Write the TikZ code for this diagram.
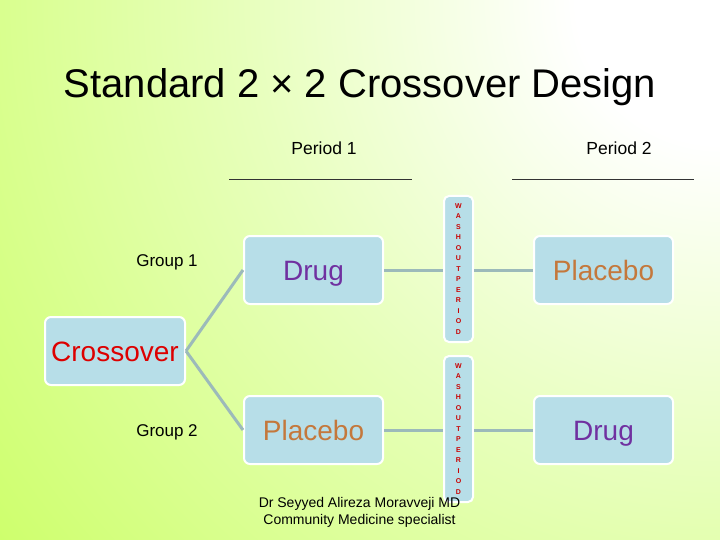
\documentclass[tikz,border=0pt]{standalone}
\usepackage{fontspec}
\setmainfont{Liberation Sans}
\definecolor{bggreen}{RGB}{204,255,102}
\definecolor{bglight}{RGB}{232,255,190}
\definecolor{boxfill}{RGB}{183,222,232}
\definecolor{conncol}{RGB}{156,186,186}
\definecolor{drugcol}{RGB}{112,48,160}
\definecolor{placol}{RGB}{196,120,60}
\definecolor{crosscol}{RGB}{221,0,0}
\definecolor{washcol}{RGB}{200,0,0}
\pgfdeclareradialshading{bgshade}{\pgfpoint{0bp}{0bp}}{%
  color(0bp)=(white); color(4bp)=(white); color(13bp)=(bglight);
  color(26bp)=(bggreen); color(50bp)=(bggreen)}
\tikzset{
  box/.style={draw=white, line width=2pt, rounded corners=6pt, fill=boxfill,
    minimum width=139pt, minimum height=68pt, inner sep=0pt,
    text height=20pt, text depth=0pt,
    font=\fontsize{28}{32}\selectfont},
  washbox/.style={draw=white, line width=2pt, rounded corners=5pt, fill=boxfill,
    minimum width=29pt, minimum height=146pt, inner sep=0pt, align=center,
    text=washcol, font=\fontsize{7}{10.5}\selectfont\bfseries},
  conn/.style={draw=conncol, line width=3pt},
  grouplbl/.style={font=\fontsize{17}{20}\selectfont, inner sep=0pt},
  periodlbl/.style={font=\fontsize{17.5}{20}\selectfont, inner sep=0pt},
  rule/.style={draw=black!80, line width=0.8pt}
}
\begin{document}
\begin{tikzpicture}[x=1pt,y=-1pt]
\useasboundingbox (0,0) rectangle (720,540);
\begin{scope}
  \clip (0,0) rectangle (720,540);
  \fill[bggreen] (0,0) rectangle (720,540);
  \shade[shading=bgshade] (720,0) circle[radius=900];
\end{scope}
\node[font=\fontsize{40}{46}\selectfont, inner sep=0pt] (title) at (360,87) {Standard 2 × 2 Crossover Design};
\node[periodlbl] (p1) at (324,148) {Period 1};
\node[periodlbl] (p2) at (619,148) {Period 2};
\coordinate (r1a) at (229,179);
\coordinate (r1b) at (412,179);
\coordinate (r2a) at (512,179);
\coordinate (r2b) at (694,179);
\draw[rule] (r1a) -- (r1b);
\draw[rule] (r2a) -- (r2b);
\node[box, text=crosscol, minimum width=140pt] (cross) at (115,351) {Crossover};
\node[box, text=drugcol] (drug1) at (313.5,270) {Drug};
\node[box, text=placol] (plac1) at (603.5,270) {Placebo};
\node[box, text=placol] (plac2) at (313.5,430) {Placebo};
\node[box, text=drugcol] (drug2) at (603.5,430) {Drug};
\node[washbox] (wash1) at (458.5,269) {W\\A\\S\\H\\O\\U\\T\\P\\E\\R\\I\\O\\D};
\node[washbox] (wash2) at (458.5,429) {W\\A\\S\\H\\O\\U\\T\\P\\E\\R\\I\\O\\D};
\node[grouplbl] (g1) at (167,262) {Group 1};
\node[grouplbl] (g2) at (167,432) {Group 2};
\draw[conn] (cross.east) -- (drug1.west);
\draw[conn] (cross.east) -- (plac2.west);
\draw[conn] (drug1.east) -- (drug1.east -| wash1.west);
\draw[conn] (drug1.east -| wash1.east) -- (plac1.west);
\draw[conn] (plac2.east) -- (plac2.east -| wash2.west);
\draw[conn] (plac2.east -| wash2.east) -- (drug2.west);
\node[font=\fontsize{14}{17}\selectfont, align=center, inner sep=0pt] (foot) at (359.5,512.5) {Dr Seyyed Alireza Moravveji MD\\Community Medicine specialist};
\end{tikzpicture}
\end{document}
